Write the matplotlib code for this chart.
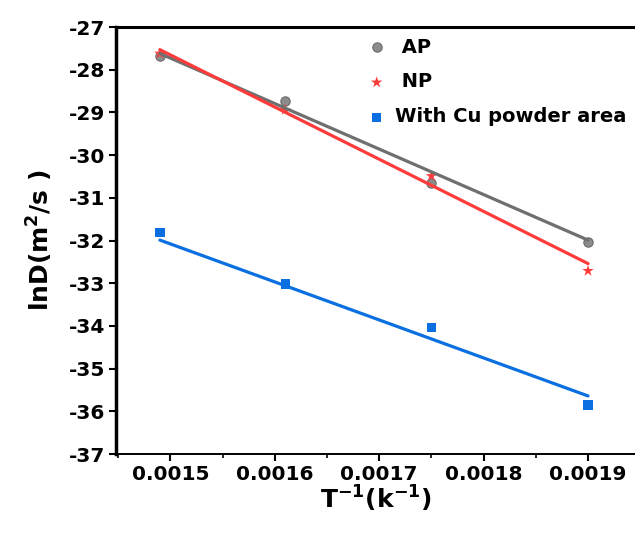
import numpy as np
import matplotlib
matplotlib.use("Agg")
import matplotlib.pyplot as plt
from matplotlib.ticker import MultipleLocator

plt.rcParams['font.family'] = ['DejaVu Sans']
plt.rcParams['mathtext.fontset'] = 'dejavusans'
plt.rcParams['mathtext.default'] = 'bf'

# data
inv_T = [0.00149, 0.00161, 0.00175, 0.0019]
ap = [-27.68, -28.73, -30.65, -32.03]
np_ = [-27.62, -28.94, -30.49, -32.71]
cu = [-31.82, -33.02, -34.03, -35.85]

fit_x = [0.00149, 0.0019]
ap_fit = [-27.62, -31.99]
np_fit = [-27.53, -32.54]
cu_fit = [-31.99, -35.64]

labels = ['AP', 'NP', 'With Cu powder area']
xticks = [0.0015, 0.0016, 0.0017, 0.0018, 0.0019]
yticks = list(range(-37, -26))

c_ap = '#6f6f6f'
c_np = '#ff3c3c'
c_cu = '#0a6fe0'

fig = plt.figure(figsize=(6.35, 5.34), dpi=100)
ax = fig.add_axes([0.1827, 0.1498, 0.8173, 0.7996])

ax.scatter(inv_T, ap, s=45, marker='o', color='#8c8c8c', edgecolors='#6a6a6a', linewidths=0.8,
           label=' ' + labels[0], zorder=3)
ax.scatter(inv_T, np_, s=75, marker='*', color=c_np, edgecolors='none', label=' ' + labels[1], zorder=3)
ax.scatter(inv_T, cu, s=45, marker='s', color=c_cu, edgecolors='none', label=labels[2], zorder=3)

ax.plot(fit_x, ap_fit, color=c_ap, lw=2.3, solid_capstyle='round', zorder=4)
ax.plot(fit_x, np_fit, color=c_np, lw=2.3, solid_capstyle='round', zorder=5)
ax.plot(fit_x, cu_fit, color=c_cu, lw=2.3, solid_capstyle='round', zorder=4)

ax.set_xlim(0.001448, 0.001945)
ax.set_ylim(-37, -27)
ax.set_xticks(xticks)
ax.set_xticklabels([f'{v:.4f}' for v in xticks])
ax.xaxis.set_minor_locator(MultipleLocator(0.00005))
ax.set_yticks(yticks)
ax.set_yticklabels([str(v) for v in yticks])

for lab in ax.get_xticklabels() + ax.get_yticklabels():
    lab.set_fontweight('bold')
    lab.set_fontsize(14.5)

ax.tick_params(axis='both', which='major', direction='out', length=5, width=1.5, pad=3)
ax.tick_params(axis='x', which='minor', direction='out', length=3, width=1.2)

ax.spines['right'].set_visible(False)
ax.spines['left'].set_linewidth(2.5)
ax.spines['top'].set_linewidth(2.2)
ax.spines['bottom'].set_linewidth(1.4)

ax.set_xlabel(r'T$^{-1}$(k$^{-1}$)', fontsize=18, fontweight='bold', labelpad=0)
ax.set_ylabel(r'lnD(m$^{2}$/s )', fontsize=18, fontweight='bold', labelpad=10)

leg = ax.legend(loc='upper left', bbox_to_anchor=(0.461, 0.989), frameon=False,
                prop={'weight': 'bold', 'size': 14}, handletextpad=0.15, handlelength=1.6,
                labelspacing=0.82, borderaxespad=0.0, borderpad=0.3)

fig.savefig('out.png', dpi=100)
